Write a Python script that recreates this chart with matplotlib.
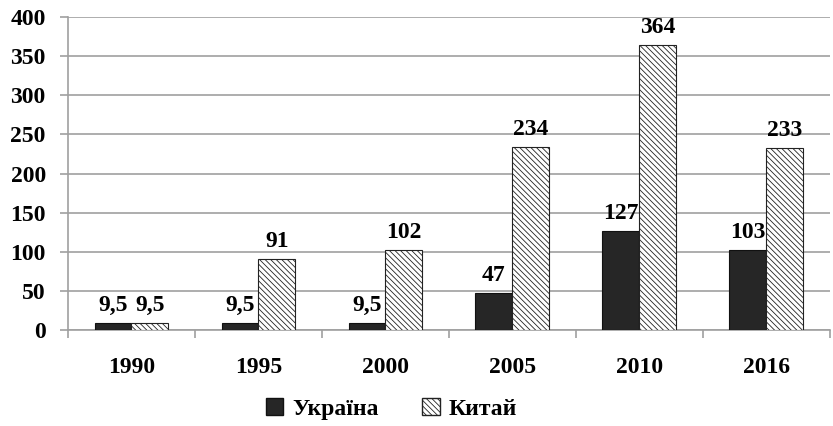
import numpy as np
import matplotlib
matplotlib.use("Agg")
import matplotlib.pyplot as plt
from matplotlib.patches import Patch

years = ["1990", "1995", "2000", "2005", "2010", "2016"]
ukraine = [9.5, 9.5, 9.5, 47, 127, 103]
china = [9.5, 91, 102, 234, 364, 233]
ukraine_labels = ["9,5", "9,5", "9,5", "47", "127", "103"]
china_labels = ["9,5", "91", "102", "234", "364", "233"]

plt.rcParams["font.family"] = ["Liberation Serif", "DejaVu Serif"]
plt.rcParams["font.weight"] = "bold"
plt.rcParams["hatch.linewidth"] = 0.6

FS = 17

fig = plt.figure(figsize=(8.33, 4.26), dpi=100)
ax = fig.add_axes([0.0816, 0.225, 0.9144, 0.735])

x = np.arange(len(years))
w = 0.29
ukr_bars = ax.bar(x - w / 2, ukraine, w, color="#262626", edgecolor="#111111",
                  linewidth=0.8, zorder=3)
chn_bars = ax.bar(x + w / 2, china, w, color="white", edgecolor="#222222",
                  hatch="\\\\\\\\\\\\", linewidth=0.8, zorder=3)

for b, lab in zip(ukr_bars, ukraine_labels):
    ax.annotate(lab, (b.get_x() + b.get_width() / 2, b.get_height()),
                xytext=(0, 5), textcoords="offset points", ha="center",
                va="bottom", fontsize=FS, fontweight="bold")
for b, lab in zip(chn_bars, china_labels):
    ax.annotate(lab, (b.get_x() + b.get_width() / 2, b.get_height()),
                xytext=(0, 5), textcoords="offset points", ha="center",
                va="bottom", fontsize=FS, fontweight="bold")

ax.set_xlim(-0.5, len(years) - 0.5)
ax.set_ylim(0, 400)
ax.set_yticks(range(0, 401, 50))
ax.yaxis.grid(True, color="#a0a0a0", linewidth=1.2, zorder=0)
ax.set_axisbelow(True)

ax.set_xticks(x)
ax.set_xticklabels(years, fontsize=FS, fontweight="bold")
ax.set_xticks(np.arange(-0.5, len(years), 1), minor=True)
ax.tick_params(axis="x", which="major", length=0, pad=19)
ax.tick_params(axis="x", which="minor", length=6, color="#a0a0a0", width=1.2)
ax.tick_params(axis="y", length=6, color="#a0a0a0", width=1.2, pad=10, labelsize=FS)
for t in ax.get_yticklabels():
    t.set_fontweight("bold")

for s in ["top", "right"]:
    ax.spines[s].set_visible(False)
for s in ["left", "bottom"]:
    ax.spines[s].set_color("#a0a0a0")
    ax.spines[s].set_linewidth(1.2)

handles = [
    Patch(facecolor="#262626", edgecolor="#111111", label="Україна"),
    Patch(facecolor="white", edgecolor="#222222", hatch="\\\\\\\\\\\\", label="Китай"),
]
fig.legend(handles=handles, loc="center", bbox_to_anchor=(0.47, 0.04),
           ncol=2, frameon=False, prop={"size": FS, "weight": "bold"},
           handlelength=0.75, handleheight=0.75, handletextpad=0.4,
           columnspacing=1.8)

fig.savefig("out.png", dpi=100)
